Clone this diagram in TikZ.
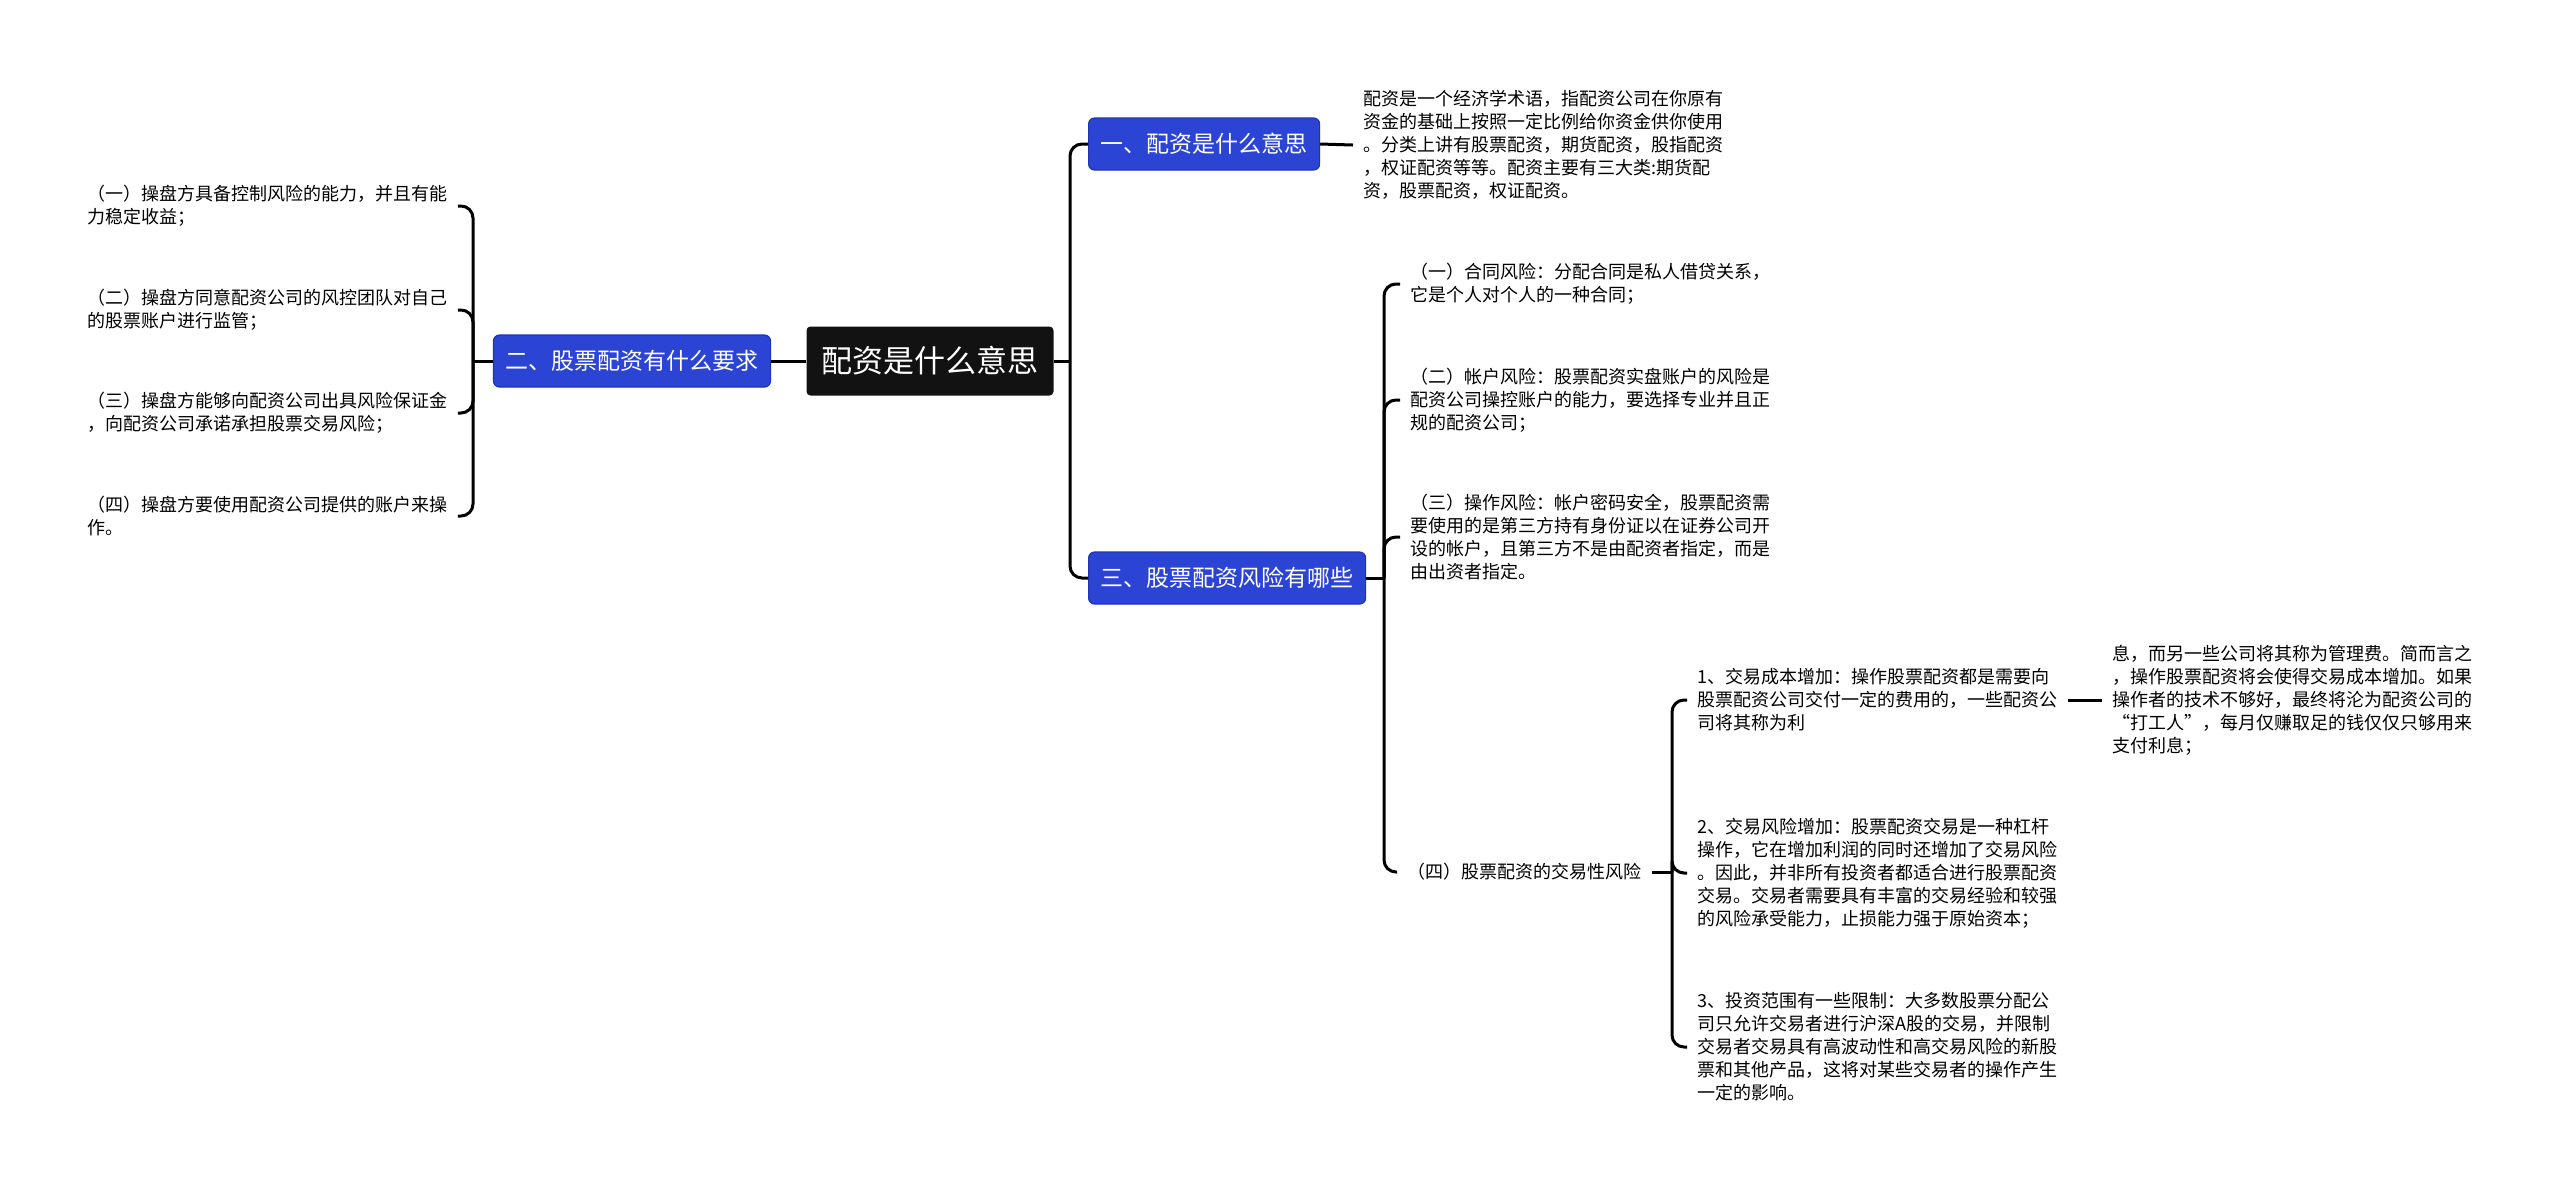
\documentclass[tikz,border=0pt]{standalone}
\usepackage{fontspec}
\setmainfont{Noto Sans CJK SC}
\definecolor{topicblue}{HTML}{2B44D4}
\definecolor{topicedge}{HTML}{1E34B0}
\begin{document}
\begin{tikzpicture}[x=0.5pt,y=-0.5pt,
  root/.style={fill=black!93,rounded corners=2pt,text=white,minimum width=123.5pt,minimum height=34.5pt,font=\fontsize{15.5pt}{18pt}\selectfont},
  topic/.style={fill=topicblue,draw=topicedge,line width=0.6pt,rounded corners=3pt,text=white,minimum height=26pt,inner xsep=6pt,font=\fontsize{11.5pt}{14pt}\selectfont},
  leaf/.style={align=left,inner xsep=5pt,inner ysep=0pt,font=\fontsize{9pt}{11.5pt}\selectfont},
  branch/.style={line width=1.5pt,rounded corners=6pt}]
  \useasboundingbox (0,0) rectangle (2560,1191);
  % centre and main topics
  \node[root] (root) at (930,361) {配资是什么意思};
  \node[topic,anchor=west] (t1) at (1088,144) {一、配资是什么意思};
  \node[topic] (t2) at (632,361) {二、股票配资有什么要求};
  \node[topic,anchor=west] (t3) at (1088,578) {三、股票配资风险有哪些};
  % topic one
  \node[leaf,anchor=west] (d1) at (1353,145) {配资是一个经济学术语，指配资公司在你原有\\资金的基础上按照一定比例给你资金供你使用\\。分类上讲有股票配资，期货配资，股指配资\\，权证配资等等。配资主要有三大类:期货配\\资，股票配资，权证配资。};
  % topic two
  \node[leaf,anchor=west] (l1) at (77,206) {（一）操盘方具备控制风险的能力，并且有能\\力稳定收益；};
  \node[leaf,anchor=west] (l2) at (77,310) {（二）操盘方同意配资公司的风控团队对自己\\的股票账户进行监管；};
  \node[leaf,anchor=west] (l3) at (77,413) {（三）操盘方能够向配资公司出具风险保证金\\，向配资公司承诺承担股票交易风险；};
  \node[leaf,anchor=west] (l4) at (77,516) {（四）操盘方要使用配资公司提供的账户来操\\作。};
  % topic three
  \node[leaf,anchor=west] (r1) at (1400,284) {（一）合同风险：分配合同是私人借贷关系，\\它是个人对个人的一种合同；};
  \node[leaf,anchor=west] (r2) at (1400,400) {（二）帐户风险：股票配资实盘账户的风险是\\配资公司操控账户的能力，要选择专业并且正\\规的配资公司；};
  \node[leaf,anchor=west] (r3) at (1400,537) {（三）操作风险：帐户密码安全，股票配资需\\要使用的是第三方持有身份证以在证券公司开\\设的帐户，且第三方不是由配资者指定，而是\\由出资者指定。};
  \node[leaf,anchor=west] (r4) at (1397,872) {（四）股票配资的交易性风险};
  \node[leaf,anchor=west] (s1) at (1687,700) {1、交易成本增加：操作股票配资都是需要向\\股票配资公司交付一定的费用的，一些配资公\\司将其称为利};
  \node[leaf,anchor=west] (s1d) at (2102,700) {息，而另一些公司将其称为管理费。简而言之\\，操作股票配资将会使得交易成本增加。如果\\操作者的技术不够好，最终将沦为配资公司的\\“打工人”，每月仅赚取足的钱仅仅只够用来\\支付利息；};
  \node[leaf,anchor=west] (s2) at (1687,873) {2、交易风险增加：股票配资交易是一种杠杆\\操作，它在增加利润的同时还增加了交易风险\\。因此，并非所有投资者都适合进行股票配资\\交易。交易者需要具有丰富的交易经验和较强\\的风险承受能力，止损能力强于原始资本；};
  \node[leaf,anchor=west] (s3) at (1687,1047) {3、投资范围有一些限制：大多数股票分配公\\司只允许交易者进行沪深A股的交易，并限制\\交易者交易具有高波动性和高交易风险的新股\\票和其他产品，这将对某些交易者的操作产生\\一定的影响。};
  % connectors
  \coordinate (jr) at (1070,361);
  \coordinate (jl) at (473,361);
  \coordinate (j3) at (1384,578);
  \coordinate (j4) at (1672,872);
  \draw[branch] (root.east) -- (jr);
  \draw[branch] (jr) |- (t1.west);
  \draw[branch] (jr) |- (t3.west);
  \draw[branch] (t1.east) -- (d1.west);
  \draw[branch] (root.west) -- (t2.east);
  \draw[branch] (t2.west) -- (jl);
  \foreach \n in {l1,l2,l3,l4} \draw[branch] (jl) |- (\n.east);
  \draw[branch] (t3.east) -- (j3);
  \foreach \n in {r1,r2,r3,r4} \draw[branch] (j3) |- (\n.west);
  \draw[branch] (r4.east) -- (j4);
  \foreach \n in {s1,s2,s3} \draw[branch] (j4) |- (\n.west);
  \draw[branch] (s1.east) -- (s1d.west);
\end{tikzpicture}
\end{document}
